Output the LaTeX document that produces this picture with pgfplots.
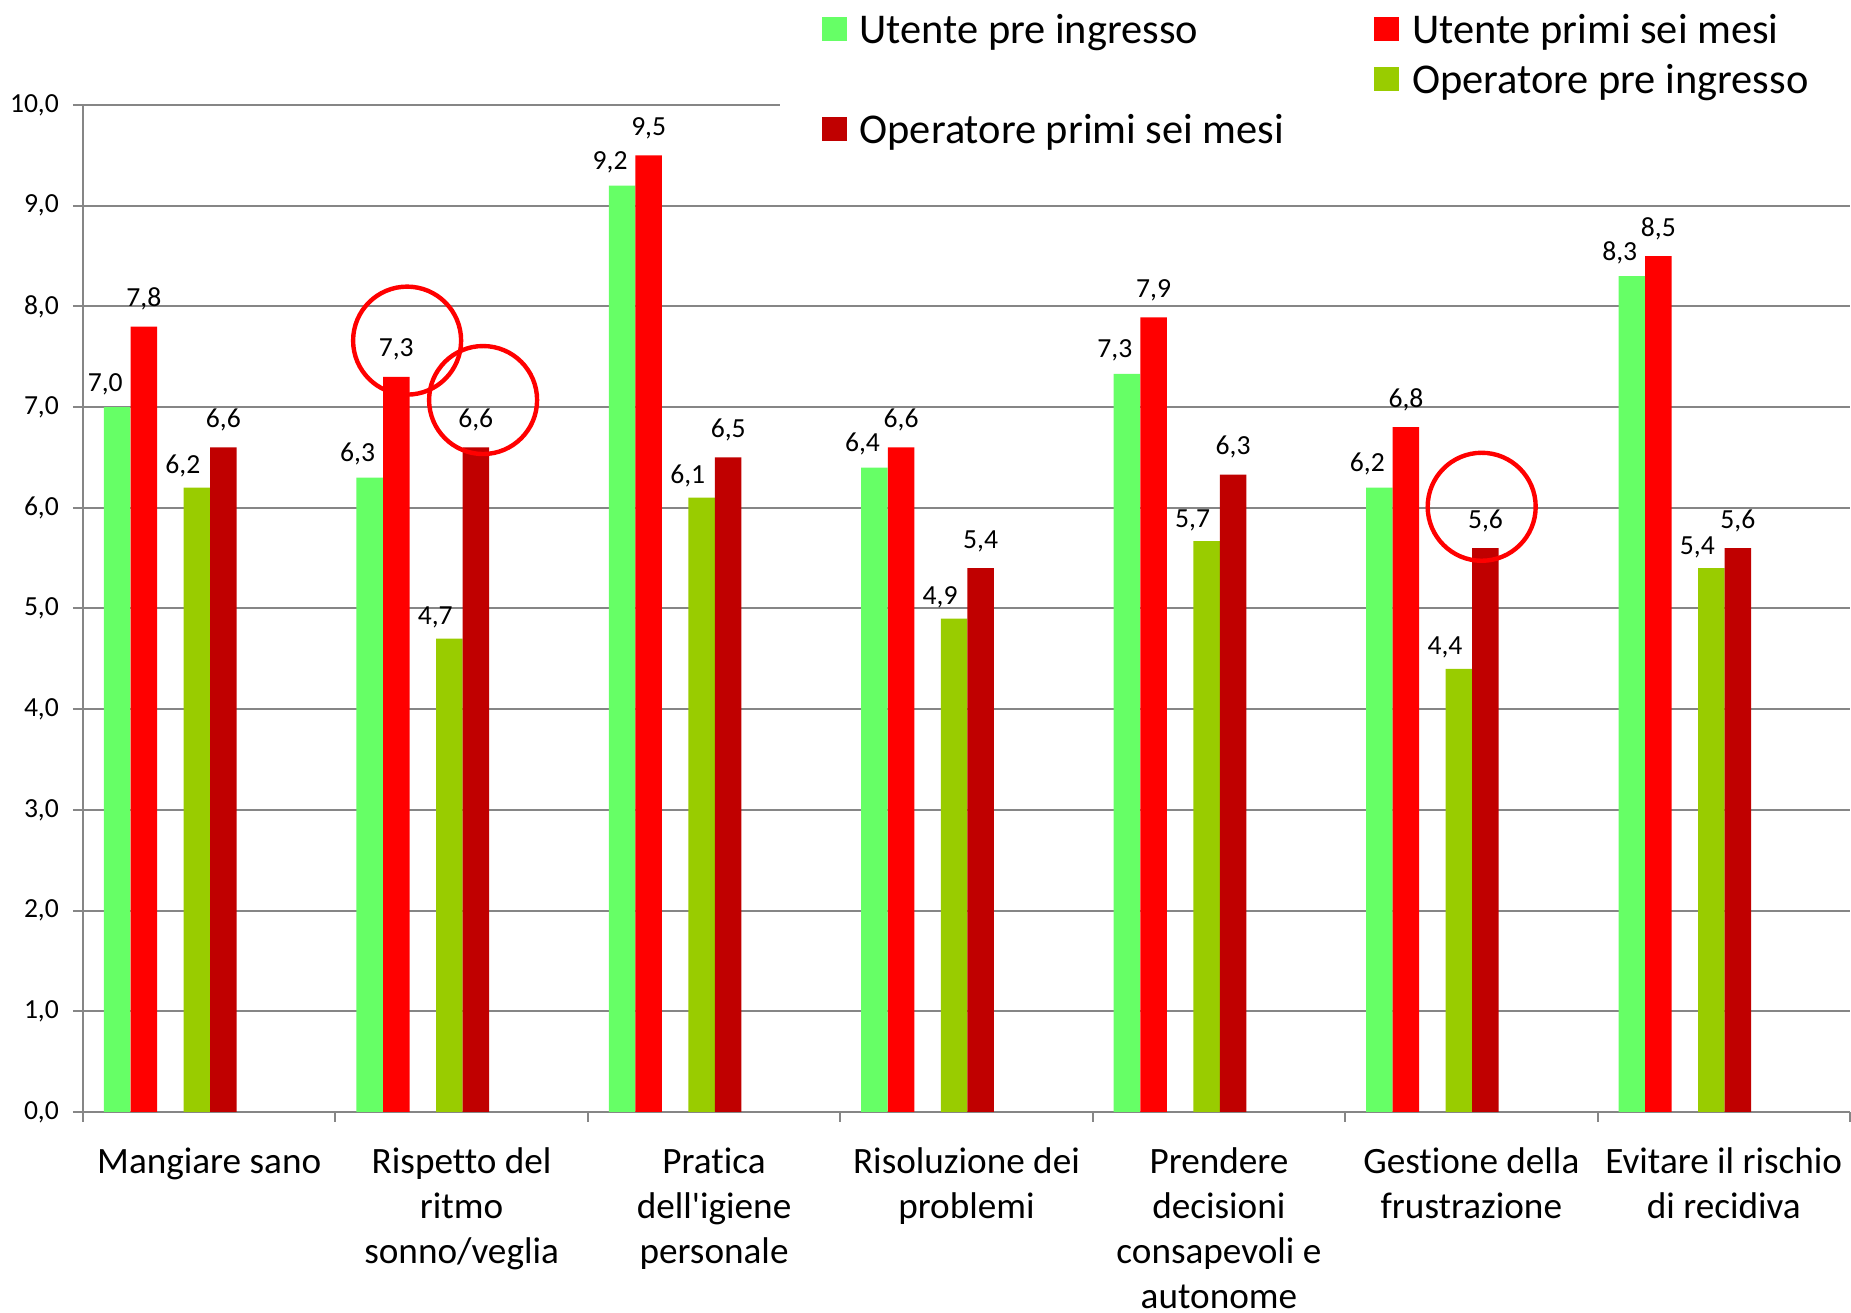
\documentclass[border=0pt]{standalone}
\usepackage{fontspec}
\setmainfont{Carlito}[Ligatures={TeX,NoCommon}]
\usepackage{pgfplots}
\usepackage{pgfplotstable}
\pgfplotsset{compat=1.18}

\definecolor{ugreen}{HTML}{66FF66}
\definecolor{ured}{HTML}{FF0000}
\definecolor{ogreen}{HTML}{99CC00}
\definecolor{ored}{HTML}{C00000}
\definecolor{gridgray}{HTML}{868686}

% punteggi medi per area: utente / operatore, pre ingresso / primi sei mesi
\pgfplotstableread{
x ug   ur   og   or
0 7.0  7.8  6.2  6.6
1 6.3  7.3  4.7  6.6
2 9.2  9.5  6.1  6.5
3 6.4  6.6  4.9  5.4
4 7.33 7.89 5.67 6.33
5 6.2  6.8  4.4  5.6
6 8.3  8.5  5.4  5.6
}\punteggi

\pgfplotsset{
  barra/.style={ybar, bar width=0.105, bar shift=0pt, draw=none,
    legend image code/.code={\fill[##1] (0pt,-2.3pt) rectangle (6.2pt,3.9pt);},
    nodes near coords,
    every node near coord/.append style={font=\fontsize{6.9}{8}\selectfont,
      inner sep=0pt, anchor=base, yshift=5pt, text=black}},
}

\begin{document}
\begin{tikzpicture}
\useasboundingbox (-20.75pt,-50.25pt) rectangle (442pt,278pt);
\begin{axis}[
    scale only axis,
    width=441.75pt, height=251.75pt,
    at={(0,0)}, anchor=south west,
    xmin=0, xmax=7, ymin=0, ymax=10,
    axis x line*=bottom, axis y line*=left,
    axis line style={draw=gridgray, line width=0.5pt, -},
    xtick={0,...,7}, x tick label as interval,
    xticklabels={Mangiare sano, {Rispetto del\\ritmo\\sonno/veglia},
      {Pratica\\dell\textquotesingle igiene\\personale}, {Risoluzione dei\\problemi},
      {Prendere\\decisioni\\consapevoli e\\autonome},
      {Gestione della\\frustrazione}, {Evitare il rischio\\di recidiva}},
    ytick={0,1,...,10},
    tick align=outside, major tick length=2.5pt,
    tick style={draw=gridgray, line width=0.5pt},
    ymajorgrids, grid style={draw=gridgray, line width=0.5pt},
    /pgf/number format/.cd, use comma, fixed, fixed zerofill, precision=1,
      assume math mode=true, /pgfplots/.cd,
    yticklabel style={font=\fontsize{6.9}{8}\selectfont},
    xticklabel style={font=\fontsize{9.3}{11.25}\selectfont, align=center,
      yshift=-3pt},
    clip=false,
    legend columns=2, legend cell align=left,
    legend style={at={(0.3939,1.1043)}, anchor=north west,
      draw=none, fill=white, inner xsep=10.5pt, inner ysep=2.1pt,
      font=\fontsize{10.6}{12.7}\selectfont,
      nodes={inner sep=1pt, text height=7.5pt, text depth=2pt},
      row sep=1pt,
      /tikz/every odd column/.append style={column sep=2.25pt},
      /tikz/every even column/.append style={column sep=21.5pt}},
  ]
  \addplot[barra, fill=ugreen,
    every node near coord/.append style={xshift=-3pt, yshift=-1pt}]
    table[x expr=\thisrow{x}+0.1355, y=ug] {\punteggi};
  \addlegendentry{Utente pre ingresso}
  \addplot[barra, fill=ured]
    table[x expr=\thisrow{x}+0.241, y=ur] {\punteggi};
  \addlegendentry{Utente primi sei mesi}
  \addlegendimage{empty legend}
  \addlegendentry{}
  \addplot[barra, fill=ogreen,
    every node near coord/.append style={xshift=-3.5pt, yshift=-1.5pt}]
    table[x expr=\thisrow{x}+0.451, y=og] {\punteggi};
  \addlegendentry{Operatore pre ingresso}
  \addplot[barra, fill=ored]
    table[x expr=\thisrow{x}+0.556, y=or] {\punteggi};
  \addlegendentry{Operatore primi sei mesi}
  \addlegendimage{empty legend}
  \addlegendentry{}

  \draw[red, line width=1.1pt] (axis cs:1.284,7.66) circle[radius=13.5pt];
  \draw[red, line width=1.1pt] (axis cs:1.585,7.07) circle[radius=13.5pt];
  \draw[red, line width=1.1pt] (axis cs:5.541,6.01) circle[radius=13.5pt];
\end{axis}
\end{tikzpicture}
\end{document}
